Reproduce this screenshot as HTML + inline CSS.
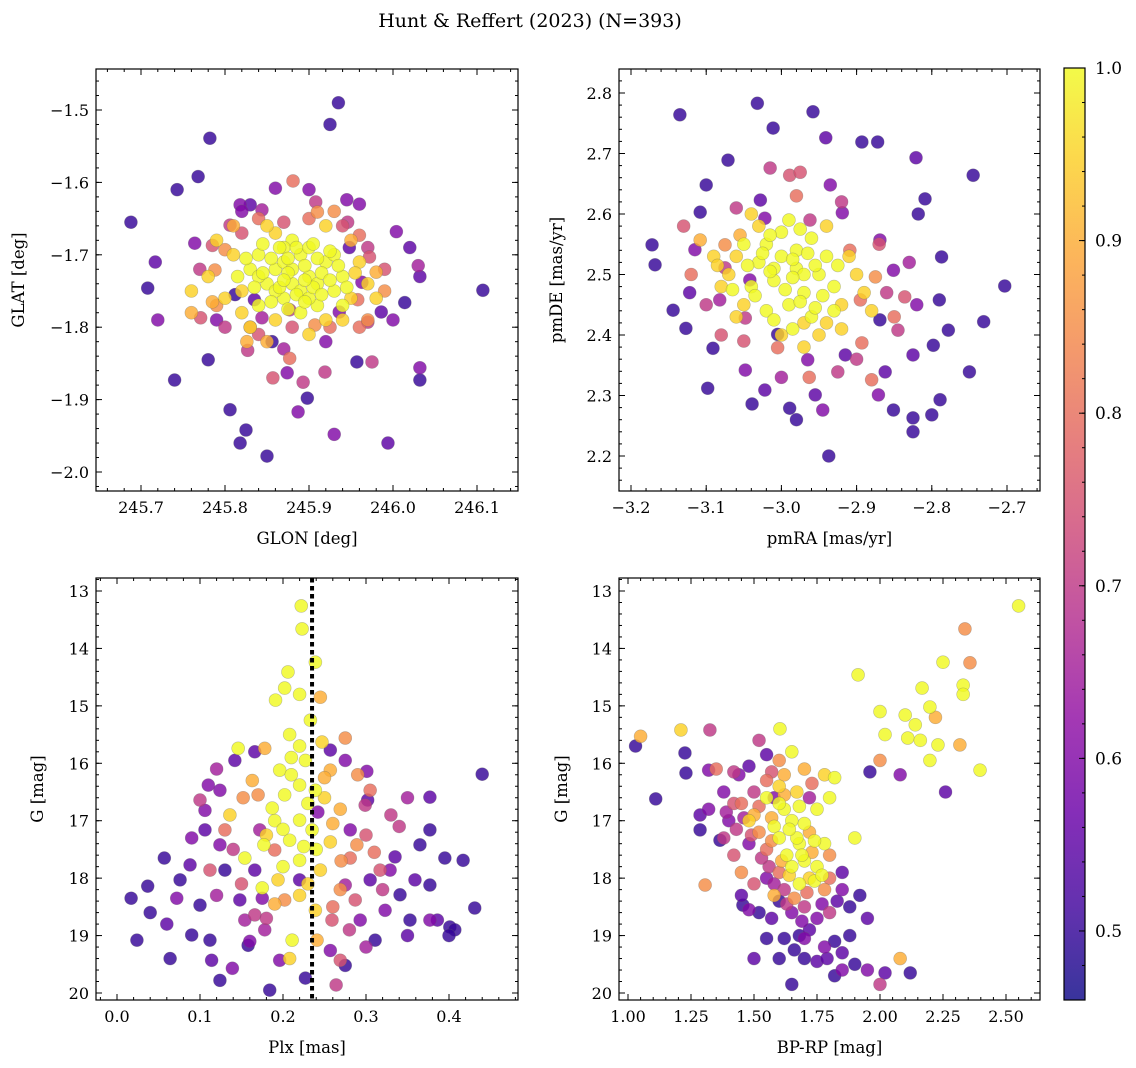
<!DOCTYPE html>
<html><head><meta charset="utf-8"><style>
body{margin:0;background:#fff}
svg{display:block;font-family:"DejaVu Serif","Liberation Serif",serif}
</style></head><body>
<svg id="fig" width="1136" height="1068" viewBox="0 0 1136 1068">
<defs><linearGradient id="cg" x1="0" y1="1" x2="0" y2="0"></linearGradient></defs>
<text x="530" y="27" text-anchor="middle" font-size="19">Hunt &amp; Reffert (2023) (N=393)</text>
</svg>
<script>
// ---------- DATA ----------
const glonGlat = [
[245.688,-1.655,0.5],[245.743,-1.61,0.5],[245.768,-1.592,0.5],[245.782,-1.539,0.5],[245.717,-1.71,0.55],[245.708,-1.746,0.5],[245.72,-1.79,0.6],[245.74,-1.873,0.5],[245.78,-1.845,0.5],[245.806,-1.914,0.5],[245.818,-1.96,0.5],[245.825,-1.942,0.5],[245.85,-1.978,0.5],[245.935,-1.49,0.5],[245.925,-1.52,0.5],[245.945,-1.624,0.6],[245.994,-1.96,0.55],[245.93,-1.948,0.6],[246.107,-1.749,0.5],[246.032,-1.73,0.55],[246.014,-1.766,0.5],[246.032,-1.873,0.5],[246.032,-1.856,0.6],[246.02,-1.69,0.55],[246.004,-1.668,0.6],[246.03,-1.715,0.65],[245.986,-1.779,0.55],[245.97,-1.793,0.7],[245.975,-1.848,0.7],[245.957,-1.848,0.5],[245.919,-1.862,0.7],[245.898,-1.898,0.5],[245.887,-1.917,0.6],[245.893,-1.876,0.7],[245.857,-1.87,0.75],[245.874,-1.863,0.6],[245.877,-1.843,0.8],[245.764,-1.684,0.6],[245.785,-1.687,0.75],[245.771,-1.787,0.75],[245.788,-1.721,0.85],[245.785,-1.765,0.9],[245.818,-1.631,0.6],[245.83,-1.631,0.55],[245.844,-1.638,0.65],[245.86,-1.608,0.6],[245.881,-1.598,0.8],[245.908,-1.627,0.7],[245.91,-1.641,0.85],[245.946,-1.655,0.7],[245.96,-1.673,0.8],[245.972,-1.703,0.75],[245.963,-1.738,0.6],[245.958,-1.762,0.8],[245.98,-1.724,0.9],[245.83,-1.8,0.8],[245.827,-1.832,0.7],[245.826,-1.82,0.9],[245.844,-1.787,0.65],[245.835,-1.762,0.55],[245.856,-1.82,0.5],[245.925,-1.8,0.8],[245.907,-1.797,0.85],[245.812,-1.755,0.5],[245.8,-1.693,0.85],[245.806,-1.659,0.7],[245.948,-1.69,0.55],[245.936,-1.779,0.6],[245.877,-1.776,0.7],
[245.79,-1.77,0.85],[245.95,-1.68,0.9],[245.97,-1.79,0.85],[245.81,-1.66,0.9],[245.99,-1.75,0.85],[245.85,-1.82,0.9],[245.93,-1.64,0.85],[245.76,-1.78,0.9],
[245.84,-1.70,1],[245.86,-1.72,1],[245.88,-1.74,1],[245.90,-1.73,1],[245.92,-1.71,1],[245.89,-1.70,1],[245.87,-1.76,1],[245.91,-1.77,1],[245.93,-1.75,1],[245.85,-1.74,1],[245.83,-1.72,1],[245.82,-1.75,0.95],[245.88,-1.68,1],[245.90,-1.69,1],[245.94,-1.73,1],[245.95,-1.76,0.95],[245.86,-1.79,0.95],[245.89,-1.78,1],[245.92,-1.79,0.95],[245.84,-1.77,1],[245.81,-1.70,0.95],[245.80,-1.76,0.95],[245.87,-1.71,1],[245.91,-1.74,1],[245.89,-1.75,1],[245.93,-1.70,1],[245.86,-1.67,0.95],[245.96,-1.71,0.95],[245.97,-1.74,0.95],[245.83,-1.80,0.95],[245.90,-1.81,0.95],[245.94,-1.79,0.95],[245.78,-1.73,0.95],[245.79,-1.68,0.95],[245.85,-1.66,0.95],[245.92,-1.66,0.95],[245.88,-1.72,1],[245.90,-1.76,1],[245.86,-1.75,1],[245.84,-1.73,1],[245.94,-1.77,1],[245.87,-1.69,1],[245.82,-1.78,0.95],[245.98,-1.76,0.95],[245.76,-1.75,0.95],
[245.855,-1.705,1],[245.875,-1.725,1],[245.895,-1.715,1],[245.915,-1.725,1],[245.905,-1.745,1],[245.885,-1.755,1],[245.865,-1.745,1],[245.845,-1.725,1],[245.835,-1.745,1],[245.855,-1.765,1],[245.875,-1.775,1],[245.895,-1.765,1],[245.915,-1.755,1],[245.925,-1.735,1],[245.935,-1.715,1],[245.925,-1.695,1],[245.905,-1.685,1],[245.885,-1.69,1],[245.865,-1.69,1],[245.845,-1.685,1],[245.825,-1.705,1],[245.815,-1.73,1],[245.945,-1.745,1],[245.955,-1.725,0.95],[245.875,-1.705,1],[245.895,-1.735,1],[245.87,-1.735,1],[245.91,-1.705,1],
[245.82,-1.67,0.75],[245.84,-1.65,0.8],[245.87,-1.655,0.75],[245.9,-1.65,0.8],[245.94,-1.66,0.75],[245.97,-1.69,0.7],[245.96,-1.80,0.8],[245.88,-1.80,0.75],[245.84,-1.81,0.75],[245.80,-1.80,0.7],[245.77,-1.72,0.7],[245.99,-1.72,0.75],[245.79,-1.79,0.6],[245.87,-1.83,0.65],[245.92,-1.82,0.6],[245.82,-1.64,0.6],[245.9,-1.61,0.6],[245.96,-1.63,0.6],[246.0,-1.79,0.6]
];
const pmPoints = [
[-3.135,2.764,0.5],[-3.032,2.783,0.5],[-3.011,2.742,0.5],[-2.958,2.769,0.5],[-2.941,2.726,0.55],[-2.893,2.719,0.5],[-2.872,2.719,0.5],[-2.745,2.664,0.5],[-2.703,2.481,0.5],[-2.731,2.422,0.5],[-2.75,2.339,0.5],[-2.789,2.293,0.5],[-2.825,2.24,0.5],[-2.825,2.263,0.5],[-2.8,2.268,0.5],[-2.937,2.2,0.5],[-3.039,2.286,0.5],[-3.098,2.312,0.5],[-3.172,2.549,0.5],[-3.168,2.516,0.5],[-3.144,2.441,0.5],[-3.127,2.411,0.5],[-3.091,2.378,0.5],[-3.1,2.648,0.5],[-3.071,2.689,0.5],[-2.821,2.693,0.55],[-2.809,2.625,0.5],[-2.818,2.6,0.5],[-2.787,2.529,0.5],[-2.79,2.458,0.5],[-2.778,2.408,0.5],[-2.798,2.383,0.5],[-2.825,2.367,0.55],[-2.862,2.339,0.55],[-2.871,2.301,0.6],[-2.851,2.276,0.5],[-2.955,2.301,0.55],[-2.945,2.276,0.6],[-2.98,2.26,0.5],[-2.989,2.279,0.5],[-3.022,2.309,0.55],[-3.048,2.342,0.6],[-3.108,2.603,0.5],[-3.115,2.541,0.6],[-3.122,2.47,0.55],[-3.028,2.623,0.55],[-3.015,2.676,0.7],[-2.989,2.664,0.75],[-2.975,2.669,0.75],[-2.935,2.648,0.6],[-2.919,2.602,0.6],[-2.869,2.557,0.6],[-2.851,2.507,0.6],[-2.836,2.463,0.75],[-2.845,2.408,0.7],[-2.869,2.425,0.5],[-2.893,2.387,0.8],[-2.915,2.367,0.55],[-2.925,2.339,0.7],[-2.965,2.359,0.6],[-3.005,2.379,0.8],[-3.048,2.428,0.7],[-3.082,2.458,0.65],[-3.075,2.511,0.7],[-3.042,2.491,0.6],[-2.895,2.458,0.8],[-2.875,2.496,0.85],[-2.909,2.54,0.8],[-2.962,2.59,0.7],[-3.022,2.593,0.6],[-3.055,2.565,0.9],[-3.108,2.557,0.9],[-3.075,2.549,0.85],[-2.88,2.326,0.8],[-2.963,2.33,0.8],[-3.005,2.401,0.5],
[-3.05,2.55,1],[-3.03,2.52,1],[-3.00,2.53,1],[-2.98,2.51,1],[-2.95,2.50,1],[-2.93,2.48,1],[-2.97,2.47,1],[-3.01,2.49,1],[-3.04,2.48,1],[-3.07,2.50,0.95],[-2.99,2.45,1],[-2.96,2.43,1],[-2.92,2.45,0.95],[-2.90,2.50,0.95],[-2.94,2.53,1],[-2.96,2.56,1],[-3.00,2.57,1],[-3.02,2.55,1],[-3.06,2.53,0.95],[-2.98,2.54,1],[-2.97,2.42,0.95],[-3.00,2.40,0.95],[-2.95,2.40,0.95],[-3.02,2.44,1],[-3.05,2.45,0.95],[-3.08,2.48,0.95],[-2.91,2.53,0.95],[-2.89,2.47,0.95],[-2.94,2.58,0.95],[-2.99,2.59,1],[-3.03,2.58,0.95],[-3.06,2.43,0.95],[-2.93,2.44,1],[-2.97,2.50,1],[-3.01,2.51,1],[-2.92,2.41,0.95],[-2.97,2.38,0.95],[-3.09,2.53,0.95],[-3.04,2.60,0.95],[-2.88,2.44,0.95],
[-3.015,2.505,1],[-2.985,2.495,1],[-2.955,2.515,1],[-2.965,2.535,1],[-3.025,2.535,1],[-3.045,2.515,1],[-3.035,2.465,1],[-2.995,2.475,1],[-2.975,2.455,1],[-2.945,2.465,1],[-2.925,2.515,1],[-2.985,2.525,1],[-3.015,2.565,1],[-2.975,2.575,1],[-3.065,2.475,1],[-3.085,2.515,0.95],[-2.955,2.445,1],[-3.01,2.425,1],[-2.985,2.41,1],[-2.94,2.42,0.95],
[-3.12,2.50,0.8],[-3.10,2.45,0.7],[-3.08,2.40,0.75],[-2.87,2.55,0.75],[-2.86,2.47,0.7],[-2.85,2.43,0.8],[-2.92,2.62,0.7],[-2.98,2.63,0.8],[-3.06,2.61,0.7],[-3.13,2.58,0.75],[-2.90,2.36,0.7],[-3.0,2.33,0.65],[-3.05,2.39,0.75],[-2.83,2.52,0.65],[-2.82,2.45,0.6]
];
const plxG = [
[0.222,13.26,1],[0.223,13.66,1],[0.239,14.24,1],[0.206,14.41,1],[0.202,14.69,1],[0.22,14.8,1],[0.245,14.85,0.9],[0.191,14.9,1],[0.233,15.25,1],[0.208,15.5,1],[0.22,15.7,1],[0.247,15.63,0.95],[0.275,15.56,0.85],[0.178,15.74,0.9],[0.146,15.74,1],[0.227,15.95,1],[0.196,16.12,1],[0.257,16.12,0.9],[0.29,16.2,0.85],[0.163,16.3,0.9],[0.22,16.38,1],[0.239,16.47,1],[0.202,16.55,1],[0.187,16.78,1],[0.269,16.8,0.9],[0.136,16.9,0.95],[0.22,16.99,1],[0.235,17.16,1],[0.208,17.34,1],[0.177,17.42,1],[0.257,17.37,0.95],[0.289,17.42,0.85],[0.154,17.65,1],[0.22,17.69,1],[0.245,17.86,0.95],[0.194,18.03,0.95],[0.269,18.2,0.85],[0.175,18.17,1],[0.22,18.3,0.95],[0.239,18.56,0.95],[0.211,19.08,1],[0.208,19.4,0.95],[0.202,18.38,0.85],[0.241,19.08,0.9],
[0.152,16.6,0.85],[0.13,17.16,0.8],[0.281,17.65,0.8],[0.305,16.47,0.8],[0.317,17.86,0.75],[0.287,18.38,0.75],[0.259,18.73,0.75],[0.112,17.86,0.75],[0.1,16.64,0.7],[0.166,18.64,0.7],[0.178,18.9,0.65],[0.269,19.43,0.75],[0.264,19.86,0.7],[0.34,17.1,0.7],[0.299,16.73,0.7],[0.19,17.51,0.8],
[0.017,18.35,0.5],[0.024,19.08,0.5],[0.037,18.14,0.5],[0.04,18.6,0.5],[0.057,17.65,0.5],[0.064,19.4,0.5],[0.076,18.03,0.5],[0.09,18.99,0.5],[0.1,18.47,0.5],[0.106,17.16,0.55],[0.11,16.38,0.6],[0.112,19.08,0.5],[0.114,19.43,0.55],[0.124,19.78,0.5],[0.13,17.86,0.5],[0.139,19.57,0.6],[0.148,18.38,0.55],[0.124,17.42,0.6],[0.142,15.95,0.55],[0.158,19.17,0.5],[0.175,18.35,0.6],[0.166,17.86,0.55],[0.184,19.95,0.5],[0.196,19.43,0.6],[0.227,19.74,0.5],[0.257,19.26,0.6],[0.275,19.52,0.5],[0.293,18.73,0.6],[0.305,18.03,0.55],[0.311,19.08,0.5],[0.323,18.56,0.6],[0.335,17.63,0.55],[0.341,18.29,0.5],[0.353,18.73,0.5],[0.359,18.03,0.55],[0.365,17.42,0.5],[0.377,18.12,0.5],[0.377,18.73,0.6],[0.386,18.73,0.55],[0.395,17.65,0.5],[0.401,18.85,0.5],[0.407,18.9,0.5],[0.417,17.69,0.5],[0.431,18.52,0.5],[0.44,16.19,0.5],[0.377,16.59,0.55],[0.377,17.16,0.5],[0.302,16.64,0.55],[0.301,16.14,0.6],[0.275,15.95,0.6],[0.257,15.77,0.55],[0.166,15.8,0.55],[0.124,16.47,0.6],[0.106,16.82,0.6],[0.088,17.77,0.55],[0.072,18.35,0.6],[0.242,16.85,0.6],[0.22,18.03,0.55],[0.154,18.73,0.65],[0.172,17.16,0.65],[0.281,17.16,0.6],[0.275,18.12,0.65],[0.329,17.86,0.6],
[0.21,16.2,1],[0.23,16.7,1],[0.25,16.6,0.95],[0.19,17.0,1],[0.24,17.5,1],[0.2,17.8,1],[0.23,18.1,0.95],[0.18,17.25,0.95],[0.26,17.05,0.9],[0.17,16.55,0.85],[0.21,15.9,1],[0.25,16.25,0.9],[0.2,17.15,1],[0.225,17.45,1],[0.19,18.45,0.9],[0.26,18.5,0.8],[0.3,17.25,0.75],[0.31,17.55,0.8],[0.32,18.2,0.7],[0.15,18.1,0.75],[0.14,17.5,0.7],[0.12,18.3,0.65],[0.16,19.1,0.6],[0.28,18.9,0.7],[0.3,19.2,0.65],[0.33,16.9,0.7],[0.35,16.6,0.65],[0.12,16.1,0.65],[0.09,17.3,0.6],[0.06,18.8,0.55],[0.35,19.0,0.55],[0.4,19.0,0.5],[0.27,17.7,0.85],[0.18,18.7,0.7]
];
const plxLine = [0.235];
const bprpG = [
[2.55,13.26,1],[2.337,13.66,0.85],[2.25,14.24,1],[2.357,14.25,0.85],[2.167,14.69,1],[2.33,14.64,1],[1.913,14.46,1],[2.198,15.02,1],[2.33,14.8,1],[2.0,15.1,1],[2.1,15.16,1],[2.14,15.33,1],[2.22,15.2,0.9],[2.02,15.5,1],[2.11,15.56,1],[2.16,15.6,1],[2.23,15.68,1],[2.198,15.95,1],[2.0,15.95,0.85],[2.317,15.68,0.9],[2.397,16.12,1],[2.26,16.5,0.55],[2.08,16.2,0.6],[1.96,16.15,0.5],
[1.03,15.7,0.5],[1.05,15.53,0.9],[1.11,16.62,0.5],[1.226,15.82,0.5],[1.21,15.42,0.95],[1.23,16.17,0.5],[1.32,16.12,0.6],[1.325,15.42,0.7],[1.44,16.2,0.6],[1.52,15.6,0.7],[1.603,15.4,1],[1.286,16.9,0.55],[1.306,18.12,0.85],[1.286,17.16,0.5],[1.365,17.34,0.5],[1.456,18.47,0.5],
[1.45,16.7,0.8],[1.5,16.9,0.9],[1.55,16.6,1],[1.6,16.4,0.95],[1.62,16.8,1],[1.58,17.1,1],[1.52,17.2,0.85],[1.48,17.4,0.6],[1.55,17.5,0.8],[1.6,17.3,1],[1.65,17.0,1],[1.68,17.4,1],[1.72,17.2,0.9],[1.7,17.7,1],[1.65,17.8,1],[1.6,17.9,0.8],[1.55,18.0,0.6],[1.62,18.2,0.7],[1.68,18.1,1],[1.72,18.0,0.95],[1.75,17.8,1],[1.78,18.2,0.85],[1.7,18.5,0.7],[1.65,18.6,0.6],[1.6,18.4,0.5],[1.75,18.7,0.6],[1.8,18.6,0.7],[1.72,18.9,0.55],[1.68,19.0,0.5],[1.62,19.05,0.5],[1.78,19.2,0.6],[1.82,19.1,0.5],[1.85,19.3,0.55],[1.88,19.0,0.5],[1.9,19.5,0.5],[1.85,19.6,0.6],[1.95,19.6,0.6],[2.0,19.85,0.7],[2.02,19.65,0.55],[2.08,19.4,0.9],[2.12,19.65,0.5],[1.75,19.45,0.55],[1.7,19.4,0.5],[1.6,19.4,0.5],[1.65,19.85,0.5],[1.82,19.7,0.5],[1.88,18.5,0.5],[1.85,18.2,0.6],[1.92,18.3,0.5],[1.9,17.3,1],[1.85,17.9,0.55],[1.8,17.6,0.85],[1.82,16.25,1],[1.8,16.6,1],[1.78,16.2,0.95],[1.7,16.1,0.9],[1.65,15.8,1],[1.6,15.95,0.85],[1.55,16.3,0.8],[1.5,16.5,0.7],[1.42,16.7,0.75],[1.4,17.0,0.6],[1.38,17.3,0.7],[1.42,17.6,0.75],[1.45,17.9,0.85],[1.5,18.1,0.75],[1.58,18.3,0.9],[1.45,18.3,0.55],[1.52,18.6,0.5],[1.55,19.05,0.5],[1.5,19.4,0.55],[1.48,17.0,0.95],[1.62,16.2,0.9],[1.67,16.5,0.95],[1.75,16.8,1],[1.78,17.4,1],[1.72,16.6,0.65],[1.58,16.6,0.6],[1.35,16.1,0.8],[1.38,16.5,0.6],[1.32,16.8,0.6],[1.42,16.15,0.7],[1.48,16.05,0.55],[1.55,15.85,0.55],[1.6,16.7,1],[1.67,17.3,1],[1.63,17.6,1],[1.73,17.55,0.9],[1.56,17.8,0.7],[1.66,18.35,0.85],[1.8,18.0,0.8],[1.7,19.05,0.6],[1.95,18.7,0.55],
[1.52,16.75,0.8],[1.57,16.95,0.9],[1.64,17.15,1],[1.7,17.05,1],[1.74,17.35,1],[1.69,17.6,1],[1.61,17.7,0.9],[1.57,17.35,0.85],[1.49,17.25,0.75],[1.46,16.95,0.65],[1.53,17.65,0.7],[1.64,17.95,0.95],[1.74,18.05,1],[1.77,17.95,1],[1.71,18.25,0.8],[1.63,18.45,0.7],[1.58,18.1,0.65],[1.77,18.45,0.6],[1.83,18.4,0.55],[1.69,18.75,0.6],[1.57,18.7,0.55],[1.48,18.55,0.6],[1.66,19.25,0.5],[1.79,19.4,0.55],[1.43,17.15,0.7],[1.39,16.85,0.65],[1.62,16.55,0.9],[1.68,16.75,1],[1.73,16.35,0.8],[1.57,16.15,0.75]
];
const xTicks1 = ["245.7","245.8","245.9","246.0","246.1"];
const yTicks1 = ["−1.5","−1.6","−1.7","−1.8","−1.9","−2.0"];
const xTicks2 = ["−3.2","−3.1","−3.0","−2.9","−2.8","−2.7"];
const yTicks2 = ["2.2","2.3","2.4","2.5","2.6","2.7","2.8"];
const xTicks3 = ["0.0","0.1","0.2","0.3","0.4"];
const xTicks4 = ["1.00","1.25","1.50","1.75","2.00","2.25","2.50"];
const gTicks = ["13","14","15","16","17","18","19","20"];
const cbTicks = ["0.5","0.6","0.7","0.8","0.9","1.0"];
const vmin = 0.46, vmax = 1.0;

// ---------- helpers ----------
const NS="http://www.w3.org/2000/svg";
const svg=document.getElementById('fig');
function mk(tag,attrs,parent){const e=document.createElementNS(NS,tag);for(const k in attrs)e.setAttribute(k,attrs[k]);(parent||svg).appendChild(e);return e;}
const stops=[[13,8,135],[65,4,157],[106,0,168],[143,13,164],[177,42,144],[204,71,120],[225,100,98],[242,132,75],[252,166,54],[252,206,37],[240,249,33]];
function plasma(t){t=Math.max(0,Math.min(1,t));const f=t*10,i=Math.min(9,Math.floor(f)),u=f-i;const a=stops[i],b=stops[i+1];return `rgb(${a.map((v,k)=>Math.round(v+(b[k]-v)*u)).join(',')})`;}
function col(p){return plasma((p-vmin)/(vmax-vmin));}
function lin(v0,p0,v1,p1){return v=>p0+(v-v0)*(p1-p0)/(v1-v0);}
function num(s){return parseFloat(s.replace('−','-'));}

function panel(o){
  const g=mk('g',{});
  
  
  const {L,T,R,B}=o;
  const clipId=o.name+'-clip';
  const cp=mk('clipPath',{id:clipId},g);mk('rect',{x:L,y:T,width:R-L,height:B-T},cp);
  const pts=mk('g',{'clip-path':`url(#${clipId})`},g);
  
  
  const sorted=o.data.slice().sort((a,b)=>a[2]-b[2]);
  sorted.forEach(d=>{
    const c=mk('circle',{cx:o.sx(d[0]),cy:o.sy(d[1]),r:6.5,fill:col(d[2]),'fill-opacity':0.82,stroke:'#666','stroke-opacity':0.4,'stroke-width':0.6},pts);
    
    
  });
  if(o.vline){
    o.vline.forEach(v=>{
      const x=o.sx(v);
      const lg=mk('g',{},g);
      
      
      for(let y=T;y<B;y+=8){mk('rect',{x:x-2,y:y,width:4,height:Math.min(4.5,B-y),fill:'#000'},lg);}
    });
  }
  mk('rect',{x:L,y:T,width:R-L,height:B-T,fill:'none',stroke:'#000','stroke-width':1.2},g);
  const xs=o.xt.map(num);
  const xminV=Math.min(o.sx.inv(L),o.sx.inv(R)),xmaxV=Math.max(o.sx.inv(L),o.sx.inv(R));
  for(let v=Math.ceil(xminV/o.xm-1e-6)*o.xm;v<=xmaxV+1e-9;v+=o.xm){const x=o.sx(v);mk('line',{x1:x,x2:x,y1:B,y2:B-3,stroke:'#000'},g);mk('line',{x1:x,x2:x,y1:T,y2:T+3,stroke:'#000'},g);}
  o.xt.forEach((s,i)=>{const x=o.sx(xs[i]);mk('line',{x1:x,x2:x,y1:B,y2:B-6,stroke:'#000'},g);mk('line',{x1:x,x2:x,y1:T,y2:T+6,stroke:'#000'},g);
    const t=mk('text',{x:x,y:B+22,'text-anchor':'middle','font-size':16},g);t.textContent=s;
    
    });
  const ys=o.yt.map(num);
  const yminV=Math.min(o.sy.inv(T),o.sy.inv(B)),ymaxV=Math.max(o.sy.inv(T),o.sy.inv(B));
  for(let v=Math.ceil(yminV/o.ym-1e-6)*o.ym;v<=ymaxV+1e-9;v+=o.ym){const y=o.sy(v);mk('line',{x1:L,x2:L+3,y1:y,y2:y,stroke:'#000'},g);mk('line',{x1:R,x2:R-3,y1:y,y2:y,stroke:'#000'},g);}
  o.yt.forEach((s,i)=>{const y=o.sy(ys[i]);mk('line',{x1:L,x2:L+6,y1:y,y2:y,stroke:'#000'},g);mk('line',{x1:R,x2:R-6,y1:y,y2:y,stroke:'#000'},g);
    const t=mk('text',{x:L-7,y:y+6,'text-anchor':'end','font-size':16},g);t.textContent=s;
    
    });
  const xl=mk('text',{x:(L+R)/2,y:B+53,'text-anchor':'middle','font-size':16.5},g);xl.textContent=o.xl;
  
  
  const yx=o.ylx,yy=(T+B)/2;
  const yl=mk('text',{x:yx,y:yy,'text-anchor':'middle','font-size':16.5,transform:`rotate(-90 ${yx} ${yy})`},g);yl.textContent=o.yl;
  
  
}
function scale(v0,p0,v1,p1){const f=lin(v0,p0,v1,p1);f.inv=lin(p0,v0,p1,v1);return f;}

panel({name:'glon-glat-panel',L:96,T:69,R:518,B:491,data:glonGlat,sx:scale(245.7,141,246.1,477),sy:scale(-1.5,110,-2.0,472),xt:xTicks1,yt:yTicks1,xm:0.02,ym:0.02,xl:'GLON [deg]',yl:'GLAT [deg]',ylx:24});
panel({name:'proper-motion-panel',L:619,T:69,R:1040,B:491,data:pmPoints,sx:scale(-3.2,631,-2.7,1007),sy:scale(2.8,93,2.2,456),xt:xTicks2,yt:yTicks2,xm:0.02,ym:0.02,xl:'pmRA [mas/yr]',yl:'pmDE [mas/yr]',ylx:562});
panel({name:'parallax-panel',L:96,T:578,R:518,B:1000,data:plxG,sx:scale(0,117,0.4,449),sy:scale(13,591,20,993),xt:xTicks3,yt:gTicks,xm:0.02,ym:0.2,xl:'Plx [mas]',yl:'G [mag]',ylx:43,vline:plxLine});
panel({name:'cmd-panel',L:619,T:578,R:1040,B:1000,data:bprpG,sx:scale(1,628,2.5,1006),sy:scale(13,591,20,993),xt:xTicks4,yt:gTicks,xm:0.05,ym:0.2,xl:'BP-RP [mag]',yl:'G [mag]',ylx:567});

// colorbar
const cg=document.getElementById('cg');
for(let i=0;i<=10;i++){mk('stop',{offset:(i/10),'stop-color':plasma(i/10),'stop-opacity':0.82},cg);}
const cb=mk('g',{});


const cT=68,cB=1000,cL=1064,cR=1085;
const cs=scale(vmax,cT,vmin,cB);
mk('rect',{x:cL,y:cT,width:cR-cL,height:cB-cT,fill:'url(#cg)',stroke:'#000','stroke-width':1.2},cb);
for(let v=0.48;v<=1.0001;v+=0.02){const y=cs(v);mk('line',{x1:cR,x2:cR-3,y1:y,y2:y,stroke:'#000'},cb);}
cbTicks.forEach(s=>{const y=cs(num(s));mk('line',{x1:cR,x2:cR-6,y1:y,y2:y,stroke:'#000'},cb);
  const t=mk('text',{x:cR+10,y:y+6,'font-size':17},cb);t.textContent=s;
  
  });
</script>
</body></html>
